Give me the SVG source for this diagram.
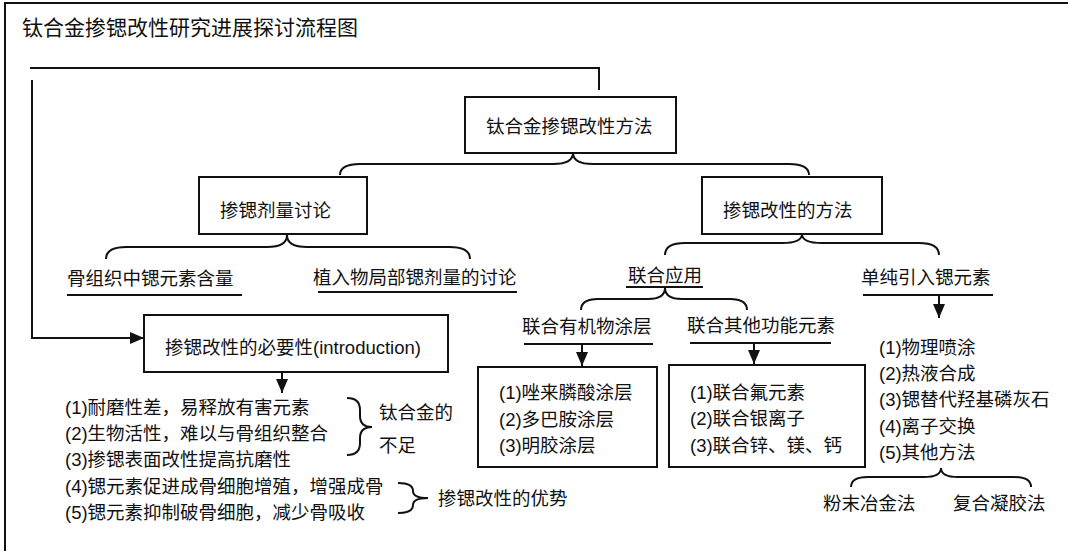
<svg xmlns="http://www.w3.org/2000/svg" width="1068" height="551" viewBox="0 0 1068 551">
<style>
.t{font-family:"Liberation Sans","Noto Sans CJK SC",sans-serif;font-size:18.5px;fill:#111;dominant-baseline:central}
.title{font-size:21px}
.box{fill:#fff;stroke:#111;stroke-width:2}
.ln{fill:none;stroke:#111;stroke-width:2}
</style>
<defs>
<marker id="ah" viewBox="0 0 14 12" refX="14" refY="6" markerWidth="14" markerHeight="12" markerUnits="userSpaceOnUse" orient="auto">
<path d="M0,0 L14,6 L0,12 z" fill="#111"/>
</marker>
</defs>
<rect x="0" y="0" width="1068" height="551" fill="#fff"/>
<path class="ln" d="M5,560 V3 H1080" stroke-width="1.5"/>
<text class="t title" x="22" y="27">钛合金掺锶改性研究进展探讨流程图</text>

<g id="connectors">
<path class="ln" d="M599,90 V68 H30"/>
<path class="ln" d="M32,80 V338 H144" marker-end="url(#ah)"/>
<path class="ln" d="M340,175 Q340,164 360,164 L553,164 Q573,164 573,153 Q573,164 593,164 L789,164 Q809,164 809,175"/>
<path class="ln" d="M106,259 Q106,247 126,247 L267,247 Q287,247 287,235 Q287,247 307,247 L450,247 Q470,247 470,259"/>
<path class="ln" d="M665,255 Q665,243 685,243 L782,243 Q802,243 802,234 Q802,243 822,243 L919,243 Q939,243 939,255"/>
<path class="ln" d="M581,310 Q581,299 598,299 L648,299 Q665,299 665,288 Q665,299 682,299 L730,299 Q747,299 747,310"/>
<path class="ln" d="M851,487 Q851,477 868,477 L924,477 Q941,477 941,468 Q941,477 958,477 L1014,477 Q1031,477 1031,487"/>
<path class="ln" d="M347,398 Q360,398 360,410 L360,416 Q360,427 372,427 Q360,427 360,438 L360,443 Q360,455 347,455"/>
<path class="ln" d="M398,483 Q413,483 413,491 Q413,498 428,498 Q413,498 413,505 Q413,513 398,513"/>
<path class="ln" d="M282,372 V393" marker-end="url(#ah)"/>
<path class="ln" d="M582,344 V366" marker-end="url(#ah)"/>
<path class="ln" d="M754,343 V364" marker-end="url(#ah)"/>
<path class="ln" d="M939,295 V318" marker-end="url(#ah)"/>
<path class="ln" d="M67,295 H242 M318,292 H517 M626,287 H703 M863,295 H993 M524,344 H653 M690,343 H831"/>
</g>

<g id="n-top"><rect class="box" x="465" y="97" width="211" height="56"/><text class="t" x="486" y="126">钛合金掺锶改性方法</text></g>
<g id="n-dose"><rect class="box" x="199" y="177" width="168" height="57"/><text class="t" x="220" y="210">掺锶剂量讨论</text></g>
<g id="n-bone"><text class="t" x="67" y="278">骨组织中锶元素含量</text></g>
<g id="n-local"><text class="t" x="313" y="277">植入物局部锶剂量的讨论</text></g>
<g id="n-method"><rect class="box" x="702" y="177" width="180" height="57"/><text class="t" x="723" y="210">掺锶改性的方法</text></g>
<g id="n-combo"><text class="t" x="628" y="275">联合应用</text></g>
<g id="n-single"><text class="t" x="861" y="277">单纯引入锶元素</text></g>
<g id="n-organic"><text class="t" x="522" y="326">联合有机物涂层</text></g>
<g id="n-other"><text class="t" x="687" y="325">联合其他功能元素</text></g>
<g id="n-need"><rect class="box" x="144" y="315" width="304" height="57"/><text class="t" x="165" y="347">掺锶改性的必要性(introduction)</text></g>
<g id="n-list">
<text class="t" x="65" y="407">(1)耐磨性差，易释放有害元素</text>
<text class="t" x="65" y="433">(2)生物活性，难以与骨组织整合</text>
<text class="t" x="65" y="459">(3)掺锶表面改性提高抗磨性</text>
<text class="t" x="65" y="486">(4)锶元素促进成骨细胞增殖，增强成骨</text>
<text class="t" x="65" y="512">(5)锶元素抑制破骨细胞，减少骨吸收</text>
</g>
<g id="n-deficit"><text class="t" x="379" y="412">钛合金的</text><text class="t" x="379" y="445">不足</text></g>
<g id="n-adv"><text class="t" x="438" y="498">掺锶改性的优势</text></g>
<g id="n-box1"><rect class="box" x="478" y="367" width="179" height="100"/>
<text class="t" x="499" y="392">(1)唑来膦酸涂层</text>
<text class="t" x="499" y="419">(2)多巴胺涂层</text>
<text class="t" x="499" y="445">(3)明胶涂层</text></g>
<g id="n-box2"><rect class="box" x="669" y="365" width="196" height="102"/>
<text class="t" x="690" y="392">(1)联合氟元素</text>
<text class="t" x="690" y="418">(2)联合银离子</text>
<text class="t" x="690" y="445">(3)联合锌、镁、钙</text></g>
<g id="n-rlist">
<text class="t" x="879" y="347">(1)物理喷涂</text>
<text class="t" x="879" y="373">(2)热液合成</text>
<text class="t" x="879" y="399">(3)锶替代羟基磷灰石</text>
<text class="t" x="879" y="426">(4)离子交换</text>
<text class="t" x="879" y="452">(5)其他方法</text>
</g>
<g id="n-powder"><text class="t" x="823" y="503">粉末冶金法</text></g>
<g id="n-gel"><text class="t" x="953" y="503">复合凝胶法</text></g>
</svg>
